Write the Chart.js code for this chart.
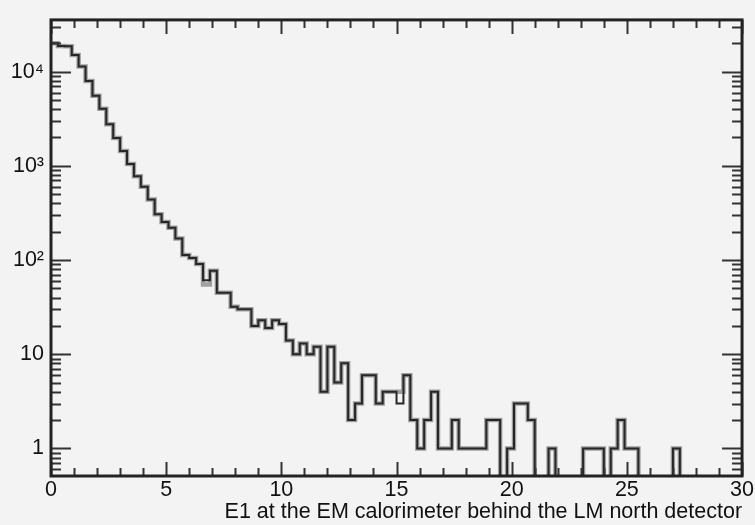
<!DOCTYPE html>
<html><head><meta charset="utf-8">
<script src="https://cdn.jsdelivr.net/npm/chart.js@4"></script>
<style>html,body{margin:0;padding:0;background:#f3f3f3;}#wrap{width:755px;height:525px;}</style>
</head><body><div id="wrap"><canvas id="c" width="755" height="525"></canvas></div>
<script>
// Histogram: 100 bins of width 0.3 from 0 to 30
const binStart = 0;
const binWidth = 0.3;
const countsBlack = [
  20000, 18750, 18600, 15000, 11350, 7940, 5550, 4040, 2760, 1970, 1440, 1045,
  775, 598, 439, 307, 254, 220, 169, 113, 105, 91, 61, 77, 45, 45, 32, 30, 30, 20,
  23, 19, 23, 21, 14, 10, 13, 10, 12, 4, 12, 5, 8,
  2, 3, 6, 6, 3, 4, 4, 3, 6, 2, 1, 2, 4, 1, 1, 2, 1, 1, 1, 1, 2, 2,
  0, 1, 3, 3, 2, 0, 0, 1, 0, 0, 0, 0, 1, 1, 1, 0, 1, 2, 1, 1,
  0, 0, 0, 0, 0, 1, 0, 0, 0, 0, 0, 0, 0, 0, 0
];
const countsGray = [
  20000, 18750, 18600, 15000, 11350, 7940, 5550, 4040, 2760, 1970, 1440, 1045,
  775, 598, 439, 307, 254, 220, 169, 113, 105, 91, 55, 77, 45, 45, 32, 30, 30, 20,
  23, 19, 23, 21, 14, 10, 13, 10, 12, 4, 12, 5, 8,
  2, 3, 6, 6, 3, 4, 4, 4, 6, 2, 1, 2, 4, 1, 1, 2, 1, 1, 1, 1, 2, 2,
  0, 1, 3, 3, 2, 0, 0, 1, 0, 0, 0, 0, 1, 1, 1, 0, 1, 2, 1, 1,
  0, 0, 0, 0, 0, 1, 0, 0, 0, 0, 0, 0, 0, 0, 0
];
const xTickValues = [0, 5, 10, 15, 20, 25, 30];
const xTickLabels = ['0', '5', '10', '15', '20', '25', '30'];
const yTickValues = [1, 10, 100, 1000, 10000];
const yTickLabels = ['1', '10', '10\u00B2', '10\u00B3', '10\u2074'];
const xTitle = 'E1 at the EM calorimeter behind the LM north detector';
const xMin = 0, xMax = 30, yMin = 0.51, yMax = 35400;

function histPoints(counts) {
  const floor = yMin / 20;
  const pts = counts.map((c, i) => ({ x: binStart + i * binWidth, y: c > 0 ? c : floor }));
  const last = counts[counts.length - 1];
  pts.push({ x: binStart + counts.length * binWidth, y: last > 0 ? last : floor });
  return pts;
}

const tickPlugin = {
  id: 'frameTicks',
  afterDatasetsDraw(chart) {
    const ctx = chart.ctx, a = chart.chartArea;
    const xs = chart.scales.x, ys = chart.scales.y;
    ctx.save();
    ctx.strokeStyle = '#333';
    ctx.lineWidth = 2;
    ctx.beginPath();
    for (let v = xMin; v <= xMax; v++) {
      const px = Math.round(xs.getPixelForValue(v)) + 0.5;
      const len = v % 5 === 0 ? 14 : 8;
      ctx.moveTo(px, a.bottom); ctx.lineTo(px, a.bottom - len);
      ctx.moveTo(px, a.top); ctx.lineTo(px, a.top + len);
    }
    for (let k = -1; k <= 4; k++) {
      for (let m = 1; m <= 9; m++) {
        const v = m * Math.pow(10, k);
        if (v < yMin || v > yMax) continue;
        const py = Math.round(ys.getPixelForValue(v)) + 0.5;
        const len = m === 1 ? 20 : 10;
        ctx.moveTo(a.left, py); ctx.lineTo(a.left + len, py);
        ctx.moveTo(a.right, py); ctx.lineTo(a.right - len, py);
      }
    }
    ctx.stroke();
    ctx.strokeStyle = '#222';
    ctx.lineWidth = 3;
    ctx.strokeRect(a.left, a.top, a.right - a.left, a.bottom - a.top);
    ctx.restore();
  }
};

const font = { family: "'Liberation Sans', Arial, sans-serif", size: 21.5 };

new Chart(document.getElementById('c'), {
  type: 'line',
  data: {
    datasets: [
      { data: histPoints(countsBlack), stepped: 'before', borderColor: '#262626', borderWidth: 2, pointRadius: 0, fill: false, order: 0 },
      { data: histPoints(countsGray), stepped: 'before', borderColor: '#a0a0a0', borderWidth: 4.5, pointRadius: 0, fill: false, order: 1 }
    ]
  },
  options: {
    responsive: false,
    animation: false,
    devicePixelRatio: 1,
    layout: { padding: { left: 0, right: 10, top: 9, bottom: 0 } },
    plugins: { legend: { display: false }, tooltip: { enabled: false } },
    scales: {
      x: {
        type: 'linear', min: xMin, max: xMax,
        grid: { display: false, drawTicks: false },
        border: { display: false },
        afterBuildTicks: s => { s.ticks = xTickValues.map(v => ({ value: v })); },
        afterFit: s => { s.height = 49; },
        ticks: { color: '#111', font, padding: 1, maxRotation: 0, autoSkip: false,
          callback: v => xTickLabels[xTickValues.indexOf(v)] },
        title: { display: true, text: xTitle, align: 'end', color: '#111', font, padding: { top: 0, bottom: 0 } }
      },
      y: {
        type: 'logarithmic', min: yMin, max: yMax,
        grid: { display: false, drawTicks: false },
        border: { display: false },
        afterBuildTicks: s => { s.ticks = yTickValues.map(v => ({ value: v })); },
        afterFit: s => { s.width = 51; },
        ticks: { color: '#111', font, padding: 7, autoSkip: false,
          callback: v => yTickLabels[yTickValues.indexOf(v)] }
      }
    }
  },
  plugins: [tickPlugin]
});
</script></body></html>
